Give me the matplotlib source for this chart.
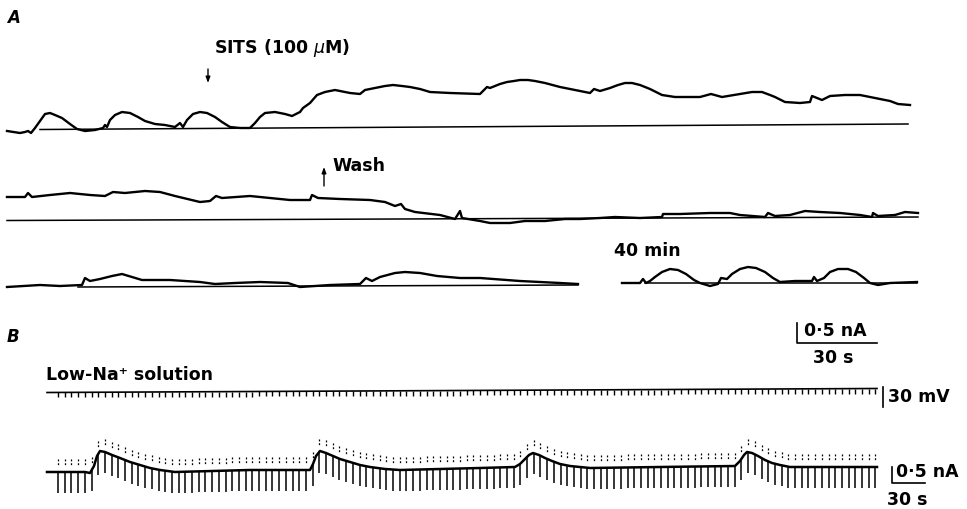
import numpy as np
import matplotlib
matplotlib.use("Agg")
import matplotlib.pyplot as plt

plt.rcParams['font.family'] = ['DejaVu Sans']

# ---------------- Data (recording traces, page units: x = time, y = signal, down positive) -------------
# Panel A, row 1 (control + SITS)
a1_x = [7, 20, 25, 28, 31, 35, 40, 45, 50, 55, 62, 70, 77, 85, 95, 103, 105, 107, 110, 115, 122,
        130, 138, 145, 155, 165, 175, 180, 183, 187, 193, 200, 207, 215, 222, 230, 240, 250, 255,
        260, 265, 275, 285, 292, 300, 303, 310, 317, 325, 335, 350, 360, 365, 375, 385, 393, 402,
        410, 420, 430, 450, 480, 487, 490, 500, 507, 514, 520, 528, 535, 545, 560, 575, 590, 594,
        600, 610, 618, 625, 632, 640, 650, 662, 675, 700, 711, 722, 740, 752, 762, 770, 775, 785,
        800, 810, 812, 822, 830, 845, 860, 875, 890, 898, 910]
a1_y = [131, 133, 132, 131, 133, 128, 121, 114, 113, 115, 118, 124, 129, 131, 130, 128, 125, 127,
        120, 115, 112, 113, 117, 121, 124, 125, 127, 123, 127, 120, 114, 112, 113, 117, 122, 127,
        128, 128, 123, 117, 113, 112, 114, 116, 112, 108, 103, 95, 92, 90, 93, 94, 90, 88, 86, 85,
        86, 87, 89, 92, 93, 94, 87, 88, 84, 82, 81, 80, 80, 81, 83, 87, 90, 93, 89, 91, 88, 85,
        83, 83, 85, 89, 95, 97, 97, 94, 97, 94, 92, 92, 95, 97, 102, 103, 102, 96, 100, 96, 95,
        95, 98, 101, 104, 105]
a1_base_x = [40, 908]
a1_base_y = [129.5, 124]

# Panel A, row 2 (SITS then wash)
a2_x = [7, 25, 28, 32, 50, 70, 90, 105, 113, 125, 145, 160, 175, 200, 210, 216, 222, 250, 270, 290,
        310, 312, 318, 340, 370, 385, 395, 401, 405, 415, 440, 455, 460, 462, 480, 490, 510, 525,
        545, 565, 580, 600, 615, 640, 662, 663, 680, 710, 730, 740, 765, 768, 775, 790, 805, 820,
        840, 860, 872, 873, 878, 895, 905, 918]
a2_y = [197, 197, 193, 197, 195, 193, 195, 196, 192, 193, 191, 192, 196, 202, 201, 196, 198, 196,
        198, 200, 200, 195, 198, 199, 200, 202, 206, 204, 209, 212, 215, 219, 211, 218, 221, 223,
        223, 221, 221, 219, 219, 218, 217, 218, 217, 214, 214, 213, 213, 215, 217, 213, 216, 215,
        211, 212, 213, 215, 217, 213, 216, 215, 212, 213]
a2_base_x = [7, 918]
a2_base_y = [220.5, 217]

# Panel A, row 3 (after wash, and 40 min)
a3_x = [7, 40, 60, 82, 85, 90, 100, 112, 122, 132, 142, 170, 200, 215, 235, 260, 288, 300, 330,
        360, 366, 372, 380, 395, 405, 420, 437, 460, 480, 520, 560, 578]
a3_y = [287, 285, 286, 285, 278, 281, 279, 276, 274, 277, 280, 280, 282, 284, 283, 282, 283, 287,
        285, 284, 278, 281, 277, 273, 272, 273, 276, 278, 278, 281, 283, 284]
a3_base_x = [78, 578]
a3_base_y = [287, 285]

a4_x = [622, 640, 643, 646, 650, 655, 662, 670, 678, 686, 694, 700, 710, 718, 721, 727, 732, 740,
        748, 756, 765, 773, 780, 795, 812, 814, 817, 824, 830, 838, 848, 856, 864, 870, 878, 890,
        917]
a4_y = [283, 283, 279, 283, 281, 277, 272, 269, 270, 274, 280, 283, 286, 284, 278, 279, 274, 269,
        267, 268, 272, 278, 282, 281, 281, 277, 281, 278, 272, 269, 269, 272, 278, 283, 285, 283,
        282]
a4_base_x = [645, 917]
a4_base_y = [283, 283]

# Panel B: membrane potential line and holding current
bv_x = [47, 877]
bv_y = [392.5, 388.5]
bi_x = [47, 85, 90, 94, 97, 100, 105, 112, 120, 130, 140, 150, 160, 175, 250, 310, 313, 316, 320,
        326, 333, 340, 350, 360, 370, 385, 400, 480, 515, 520, 525, 529, 533, 539, 545, 552, 560,
        570, 590, 660, 735, 740, 744, 747, 752, 758, 765, 772, 780, 790, 877]
bi_y = [472, 472, 473, 466, 456, 451, 452, 455, 458, 462, 465, 468, 470, 472, 470, 470, 464, 456,
        451, 453, 456, 459, 462, 465, 467, 469, 470, 468, 467, 464, 459, 455, 453, 455, 458, 461,
        464, 466, 468, 467, 466, 461, 455, 452, 453, 456, 460, 463, 465, 467, 467]
pulse_start, pulse_end, pulse_interval = 58, 877, 6.7   # regular voltage-step protocol

# ---------------- Figure ----------------
fig = plt.figure(figsize=(9.67, 5.09), dpi=100)
ax = fig.add_axes([0, 0, 1, 1])
ax.set_xlim(0, 967)
ax.set_ylim(509, 0)
ax.axis('off')

k = 'black'
trace_lw = 1.7
base_lw = 1.1

for tx, ty in [(a1_x, a1_y), (a2_x, a2_y), (a3_x, a3_y), (a4_x, a4_y)]:
    ax.plot(tx, ty, color=k, lw=trace_lw, solid_joinstyle='round')
for bx, by in [(a1_base_x, a1_base_y), (a2_base_x, a2_base_y), (a3_base_x, a3_base_y),
               (a4_base_x, a4_base_y)]:
    ax.plot(bx, by, color=k, lw=base_lw)

# Panel B voltage line with step ticks
pulses = np.arange(pulse_start, pulse_end, pulse_interval)
ax.plot(bv_x, bv_y, color=k, lw=1.2)
vy = np.interp(pulses, bv_x, bv_y)
ax.vlines(pulses, vy, vy + 5, color=k, lw=1.0)

# Panel B current trace with pulse-evoked deflections
iy = np.interp(pulses, bi_x, bi_y)
ax.vlines(pulses, iy, iy + 21, color=k, lw=1.1)
ax.vlines(pulses, iy - 13, iy - 6, color=k, lw=0.9, linestyles=(0, (1.5, 1.5)))
ax.plot(bi_x, bi_y, color=k, lw=1.8, solid_joinstyle='round')

# ---------------- Annotations ----------------
fs = 12.5
tkw = dict(fontsize=fs, fontweight='bold', color=k)
ax.text(7, 18, 'A', fontsize=12, fontweight='bold', style='italic', va='center', ha='left')
ax.text(7, 337, 'B', fontsize=12, fontweight='bold', style='italic', va='center', ha='left')

akw = dict(arrowstyle='-|>,head_length=0.35,head_width=0.13', color=k, lw=1.0,
           shrinkA=0, shrinkB=0)
ax.text(214, 48, r'SITS (100 $\mu$M)', va='center', ha='left', **tkw)
ax.annotate('', xy=(208, 83), xytext=(208, 69), arrowprops=akw)
ax.text(332, 166, 'Wash', va='center', ha='left', **tkw)
ax.annotate('', xy=(324, 167), xytext=(324, 186), arrowprops=akw)
ax.text(614, 251, '40 min', va='center', ha='left', **tkw)

ax.text(46, 375, 'Low-Na\u207a solution', va='center', ha='left', **tkw)

# Scale bar (top right of B)
ax.plot([797, 797, 877], [323, 343, 343], color=k, lw=1.2)
ax.text(804, 331, '0\u00b75 nA', va='center', ha='left', **tkw)
ax.text(833, 358, '30 s', va='center', ha='center', **tkw)

# 30 mV bar
ax.plot([883, 883], [387, 407], color=k, lw=1.2)
ax.text(888, 397, '30 mV', va='center', ha='left', **tkw)

# bottom right scale bar
ax.plot([892, 892, 925], [467, 483, 483], color=k, lw=1.2)
ax.text(896, 472, '0\u00b75 nA', va='center', ha='left', **tkw)
ax.text(907, 500, '30 s', va='center', ha='center', **tkw)

fig.savefig('out.png', dpi=100, facecolor='white')
